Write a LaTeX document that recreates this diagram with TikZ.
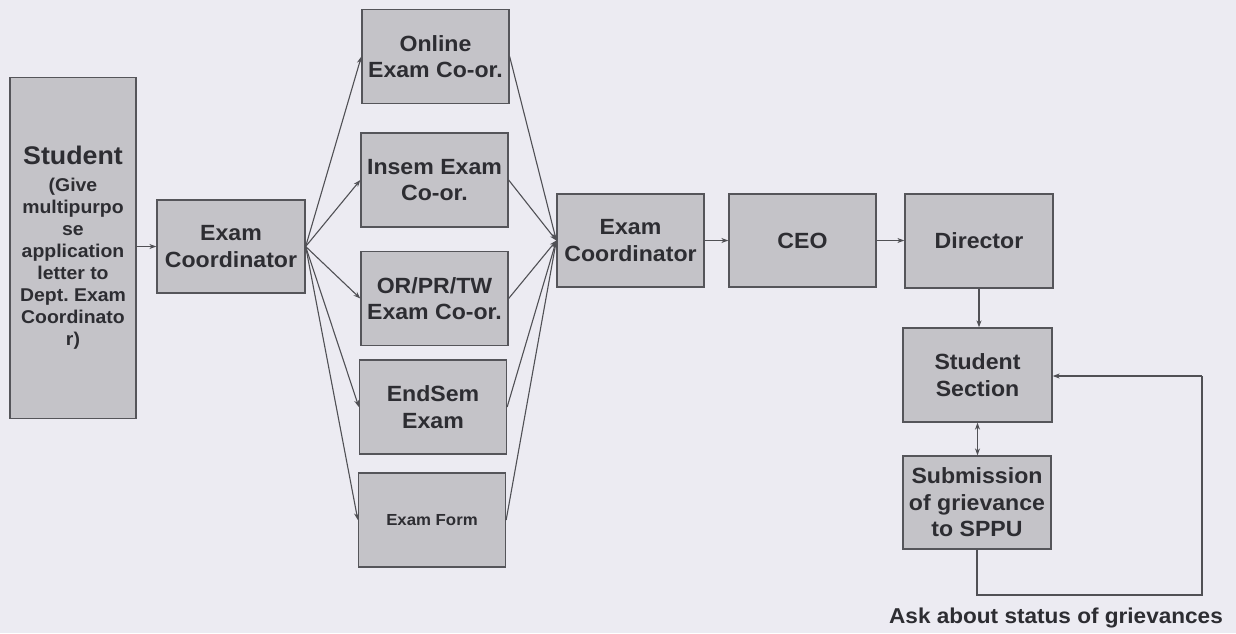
\documentclass[tikz,border=0pt]{standalone}
\usepackage{fontspec}
\setmainfont[FakeStretch=1.05]{Liberation Sans}
\usetikzlibrary{arrows.meta}
\definecolor{bg}{RGB}{236,235,242}
\definecolor{boxfill}{RGB}{196,195,200}
\definecolor{boxline}{RGB}{85,85,90}
\definecolor{txt}{RGB}{45,45,50}
\definecolor{lnk}{RGB}{80,80,85}
\tikzset{
  box/.style={draw=boxline, line width=1.3pt, fill=boxfill, text=txt,
    align=center, inner sep=1pt, minimum width=147pt, minimum height=94pt,
    font=\bfseries\fontsize{22}{26.5}\selectfont},
  conn/.style={draw=lnk, line width=1.1pt, -{Stealth[length=7pt,width=5pt]}},
  dconn/.style={draw=lnk, line width=1.1pt, {Stealth[length=7pt,width=5pt]}-{Stealth[length=7pt,width=5pt]}},
  plain/.style={draw=lnk, line width=1.1pt}
}
\frenchspacing
\begin{document}
\frenchspacing
\begin{tikzpicture}[x=1pt,y=-1pt]
\useasboundingbox (0,0) rectangle (1236,633);
\fill[bg] (0,0) rectangle (1236,633);

\node[box, minimum width=126pt, minimum height=341pt, font=\bfseries\fontsize{18.5}{22}\selectfont] (student) at (73,248)
  {\fontsize{25.5}{28}\selectfont Student\\[5pt]
   \fontsize{18.5}{22}\selectfont (Give\\multipurpo\\se\\application\\letter to\\Dept. Exam\\Coordinato\\r)};
\node[box, minimum width=148pt, minimum height=93pt] (ec1) at (231,246.5) {Exam\\Coordinator};

\node[box] (online) at (435.5,56.5) {Online\\Exam Co-or.};
\node[box] (insem) at (434.5,180) {Insem Exam\\Co-or.};
\node[box] (orpr) at (434.5,298.5) {OR/PR/TW\\Exam Co-or.};
\node[box] (endsem) at (433,407) {EndSem\\Exam};
\node[box, font=\bfseries\fontsize{16}{18}\selectfont] (form) at (432,520) {Exam Form};

\node[box, minimum height=93pt] (ec2) at (630.5,240.5) {Exam\\Coordinator};
\node[box, minimum height=93pt] (ceo) at (802.5,240.5) {CEO};
\node[box, minimum width=148pt] (director) at (979,241) {Director};
\node[box, minimum width=149pt] (ss) at (977.5,375) {Student\\Section};
\node[box, minimum width=148pt, minimum height=93pt] (sub) at (977,502.5) {Submission\\of grievance\\to SPPU};

\node[font=\bfseries\fontsize{21.5}{25}\selectfont, text=txt, inner sep=0pt] (ask) at (1056,618) {Ask about status of grievances};

\coordinate (c1) at (977,595);
\coordinate (c2) at (1202,595);
\coordinate (c3) at (1202,376);

\draw[conn] (student.east |- ec1.west) -- (ec1.west);
\foreach \n in {online,insem,orpr,endsem,form}{
  \draw[conn] (ec1.east) -- (\n.west);
  \draw[conn] (\n.east) -- (ec2.west);
}
\draw[conn] (ec2.east) -- (ceo.west |- ec2.east);
\draw[conn] (ceo.east) -- (director.west |- ceo.east);
\draw[conn] (director.south) -- (ss.north -| director.south);
\draw[dconn] (ss.south) -- (sub.north -| ss.south);
\draw[plain] (sub.south) -- (c1) -- (c2) -- (c3);
\draw[conn] (c3) -- (ss.east |- c3);
\end{tikzpicture}
\end{document}
